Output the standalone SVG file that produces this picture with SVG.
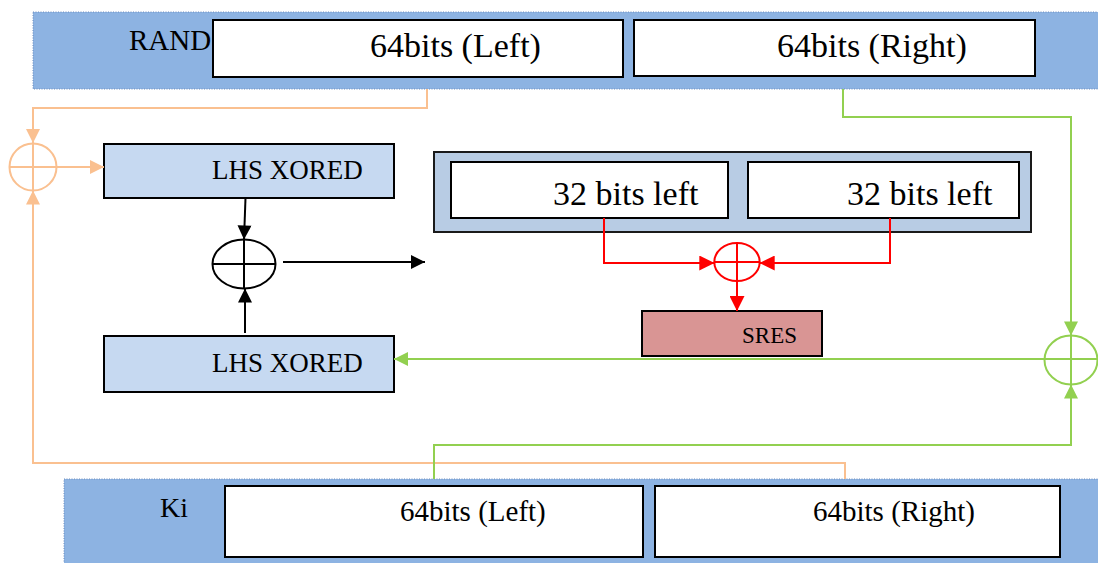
<svg xmlns="http://www.w3.org/2000/svg" width="1098" height="563" viewBox="0 0 1098 563">
  <style>
    .band { fill: #8DB3E2; stroke: #6D8DBE; stroke-width: 1; stroke-dasharray: 1 1.5; }
    .cell { fill: #FFFFFF; stroke: #000000; stroke-width: 2; }
    .lhs { fill: #C6D9F1; stroke: #000000; stroke-width: 2; }
    .frame { fill: #B8CCE4; stroke: #1a1a1a; stroke-width: 2; }
    .sres { fill: #D99594; stroke: #000000; stroke-width: 2; }
    .t { font-family: "Liberation Serif", "Times New Roman", serif; fill: #000000; }
    .orange { stroke: #FAC090; fill: none; stroke-width: 2; }
    .green { stroke: #92D050; fill: none; stroke-width: 2; }
    .red { stroke: #FF0000; fill: none; stroke-width: 2; }
    .black { stroke: #000000; fill: none; stroke-width: 2; }
  </style>
  <defs>
    <marker id="ahBlack" viewBox="0 0 10 10" refX="10" refY="5" markerWidth="15" markerHeight="14" markerUnits="userSpaceOnUse" orient="auto">
      <path d="M0,0 L10,5 L0,10 Z" fill="#000000"/>
    </marker>
    <marker id="ahOrange" viewBox="0 0 10 10" refX="10" refY="5" markerWidth="15" markerHeight="14" markerUnits="userSpaceOnUse" orient="auto">
      <path d="M0,0 L10,5 L0,10 Z" fill="#FAC090"/>
    </marker>
    <marker id="ahGreen" viewBox="0 0 10 10" refX="10" refY="5" markerWidth="15" markerHeight="14" markerUnits="userSpaceOnUse" orient="auto">
      <path d="M0,0 L10,5 L0,10 Z" fill="#92D050"/>
    </marker>
    <marker id="ahRed" viewBox="0 0 10 10" refX="10" refY="5" markerWidth="15" markerHeight="15" markerUnits="userSpaceOnUse" orient="auto">
      <path d="M0,0 L10,5 L0,10 Z" fill="#FF0000"/>
    </marker>
  </defs>

  <rect width="1098" height="563" fill="#FFFFFF"/>

  <!-- RAND register -->
  <g id="rand">
    <rect class="band" x="33" y="12" width="1070" height="77"/>
    <text class="t" x="129" y="50" font-size="29">RAND</text>
    <rect class="cell" x="213" y="20" width="410" height="57"/>
    <text class="t" x="370" y="57" font-size="34">64bits (Left)</text>
    <rect class="cell" x="634" y="20" width="401" height="56"/>
    <text class="t" x="777" y="57" font-size="34">64bits (Right)</text>
  </g>

  <!-- Ki register -->
  <g id="ki">
    <rect class="band" x="64" y="479" width="1040" height="90"/>
    <text class="t" x="160" y="517" font-size="28">Ki</text>
    <rect class="cell" x="225" y="486" width="418" height="71"/>
    <text class="t" x="400" y="521" font-size="29">64bits (Left)</text>
    <rect class="cell" x="655" y="486" width="405" height="71"/>
    <text class="t" x="813" y="521" font-size="29">64bits (Right)</text>
  </g>

  <!-- Upper left-half result -->
  <g id="lhs-top">
    <rect class="lhs" x="104" y="144" width="290" height="54"/>
    <text class="t" x="212" y="179" font-size="27">LHS XORED</text>
  </g>

  <!-- Lower left-half result -->
  <g id="lhs-bottom">
    <rect class="lhs" x="104" y="336" width="290" height="56"/>
    <text class="t" x="212" y="372" font-size="27">LHS XORED</text>
  </g>

  <!-- 64-bit intermediate split into halves -->
  <g id="halves">
    <rect class="frame" x="434" y="152" width="597" height="80"/>
    <rect class="cell" x="451" y="162" width="277" height="56"/>
    <text class="t" x="553" y="205" font-size="34">32 bits left</text>
    <rect class="cell" x="748" y="162" width="271" height="56"/>
    <text class="t" x="847" y="205" font-size="34">32 bits left</text>
  </g>

  <!-- Signed response -->
  <g id="sres">
    <rect class="sres" x="642" y="311" width="180" height="45"/>
    <text class="t" x="742" y="343" font-size="23">SRES</text>
  </g>

  <!-- XOR operators -->
  <g id="xor-orange">
    <circle class="orange" cx="33" cy="167" r="23.5"/>
    <path class="orange" d="M9.5,167 H56.5 M33,143.5 V190.5"/>
  </g>
  <g id="xor-black">
    <ellipse class="black" cx="244" cy="264" rx="31.5" ry="24.5"/>
    <path class="black" d="M212.5,264 H275.5 M244,239.5 V288.5"/>
  </g>
  <g id="xor-red">
    <ellipse class="red" cx="737" cy="262" rx="22.7" ry="19"/>
    <path class="red" d="M714.3,262 H759.7 M737,243 V281"/>
  </g>
  <g id="xor-green">
    <ellipse class="green" cx="1071" cy="360" rx="26.5" ry="24.5"/>
    <path class="green" d="M1044.5,359 H1097.5 M1071,335.5 V384.5"/>
  </g>

  <!-- Connectors -->
  <g id="connectors">
    <!-- RAND left half into orange XOR -->
    <path class="orange" d="M427,89 V108 H33 V143" marker-end="url(#ahOrange)"/>
    <!-- Ki right half into orange XOR -->
    <path class="orange" d="M845,479 V463 H33 V190.5" marker-end="url(#ahOrange)"/>
    <!-- orange XOR to upper LHS -->
    <path class="orange" d="M56.5,167 H104" marker-end="url(#ahOrange)"/>

    <!-- RAND right half into green XOR -->
    <path class="green" d="M843,89 V117 H1071 V335.5" marker-end="url(#ahGreen)"/>
    <!-- Ki left half into green XOR -->
    <path class="green" d="M434,479 V445 H1071 V384.5" marker-end="url(#ahGreen)"/>
    <!-- green XOR to lower LHS -->
    <path class="green" d="M1044.5,359 H394" marker-end="url(#ahGreen)"/>

    <!-- LHS results into black XOR -->
    <path class="black" d="M245.5,198 L244,239.5" marker-end="url(#ahBlack)"/>
    <path class="black" d="M245,333 V288.5" marker-end="url(#ahBlack)"/>
    <path class="black" d="M283,262 H425" marker-end="url(#ahBlack)"/>

    <!-- halves into red XOR, then to SRES -->
    <path class="red" d="M604,218 V263 H714.3" marker-end="url(#ahRed)"/>
    <path class="red" d="M890,218 V263 H759.7" marker-end="url(#ahRed)"/>
    <path class="red" d="M737,281 V311" marker-end="url(#ahRed)"/>
  </g>
</svg>
